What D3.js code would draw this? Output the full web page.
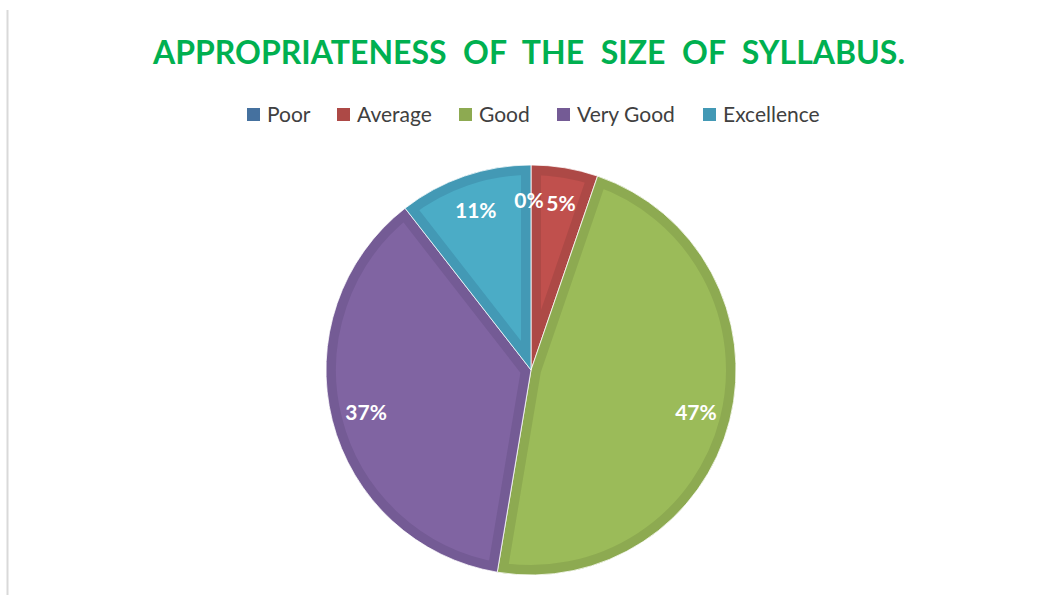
<!DOCTYPE html>
<html>
<head>
<meta charset="utf-8">
<title>Appropriateness of the size of syllabus</title>
<script src="https://d3js.org/d3.v7.min.js"></script>
<style>
body { margin: 0; background: #fff; }
svg { display: block; font-family: Lato, 'Open Sans', sans-serif; }
</style>
</head>
<body>
<svg id="chart" width="1045" height="595"></svg>
<script>
// data (counts give the shown percentages)
var categories = ["Poor", "Average", "Good", "Very Good", "Excellence"];
var counts = [0, 1, 9, 7, 2];
var colors = ["#4F81BD", "#C0504D", "#9BBB59", "#8064A2", "#4BACC6"];
var edgeColors = ["#45719F", "#AD4946", "#8DAA51", "#745B95", "#4399B5"];
var title = "APPROPRIATENESS OF THE SIZE OF SYLLABUS.";

var svg = d3.select("#chart");
var cx = 531, cy = 370, R = 205;

// thin frame line on the left
svg.append("line")
  .attr("x1", 7.5).attr("x2", 7.5).attr("y1", 10).attr("y2", 595)
  .attr("stroke", "#d9d9d9").attr("stroke-width", 2);

// title, word spacing stretched like the original
var t = svg.append("text")
  .attr("x", 153).attr("y", 64)
  .attr("font-size", 32).attr("font-weight", "bold")
  .attr("fill", "#00B050")
  .text(title);
var targetW = 752;
var gaps = title.split(" ").length - 1;
var w0 = t.node().getComputedTextLength();
t.attr("word-spacing", (targetW - w0) / gaps);

// legend
var legend = svg.append("g").attr("font-size", 21).attr("fill", "#404040");
var itemX = [247, 337, 459, 557, 703];
categories.forEach(function(c, i) {
  legend.append("rect")
    .attr("x", itemX[i]).attr("y", 108)
    .attr("width", 13).attr("height", 13)
    .attr("fill", edgeColors[i]);
  legend.append("text")
    .attr("x", itemX[i] + 20).attr("y", 122)
    .text(c);
});

// pie
var pie = d3.pie().sort(null).value(function(d) { return d; });
var arcs = pie(counts);
var arc = d3.arc().innerRadius(0).outerRadius(R);
var labelArc = d3.arc().innerRadius(R * 0.83).outerRadius(R * 0.83);
var total = d3.sum(counts);

var g = svg.append("g").attr("transform", "translate(" + cx + "," + cy + ")");
var defs = svg.append("defs");

arcs.forEach(function(a, i) {
  if (a.value === 0) return;
  defs.append("clipPath").attr("id", "clip" + i)
    .append("path").attr("d", arc(a));
  g.append("path")
    .attr("d", arc(a))
    .attr("fill", colors[i])
    .attr("stroke", edgeColors[i])
    .attr("stroke-width", 20)
    .attr("stroke-linejoin", "miter")
    .attr("clip-path", "url(#clip" + i + ")");
  g.append("path")
    .attr("d", arc(a))
    .attr("fill", "none")
    .attr("stroke", "#fff")
    .attr("stroke-width", 0.8);
});

// data labels
var fmt = function(v) { return Math.round(v / total * 100) + "%"; };
arcs.forEach(function(a, i) {
  var p = labelArc.centroid(a);
  var dx = 0;
  if (a.value === 0) dx = -2;
  else if (i === 1) dx = 2;
  g.append("text")
    .attr("x", p[0] + dx).attr("y", p[1])
    .attr("text-anchor", "middle")
    .attr("dominant-baseline", "central")
    .attr("font-size", 21).attr("font-weight", "bold")
    .attr("fill", "#fff")
    .text(fmt(a.value));
});
</script>
</body>
</html>
